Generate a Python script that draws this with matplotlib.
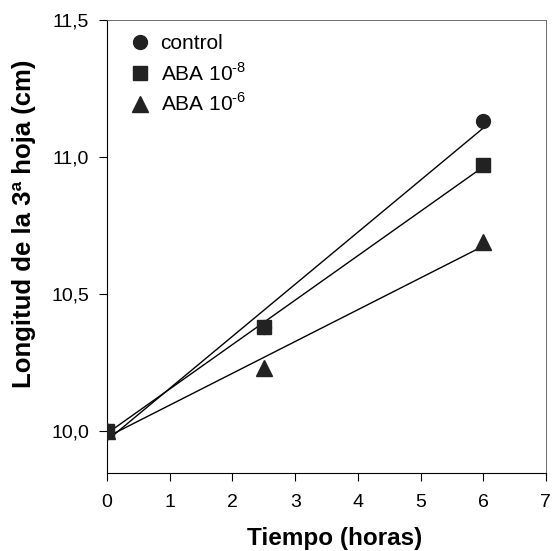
import numpy as np
import matplotlib
matplotlib.use("Agg")
import matplotlib.pyplot as plt
from matplotlib.ticker import FuncFormatter

plt.rcParams['font.family'] = ['Liberation Sans', 'DejaVu Sans']
plt.rcParams['mathtext.fontset'] = 'custom'
plt.rcParams['mathtext.rm'] = 'Liberation Sans'

# data
tiempo = [0, 2.5, 6]
control = [10.0, 10.38, 11.13]
aba8 = [10.0, 10.38, 10.97]
aba6 = [10.0, 10.23, 10.69]

series = [
    (control, 'o', 'control', 10, 3),
    (aba8, 's', r'ABA 10$^{\text{-8}}$', 9.5, 4),
    (aba6, '^', r'ABA 10$^{\text{-6}}$', 11, 3),
]

fig = plt.figure(figsize=(5.52, 5.51), dpi=100)
ax = fig.add_axes([0.194, 0.142, 0.795, 0.822])

xfit = np.array([0, 6])
for vals, mk, lab, ms, z in series:
    # regression line through each series
    b, a = np.polyfit(tiempo, vals, 1)
    ax.plot(xfit, a + b * xfit, color='black', lw=1.0, zorder=2)
    ax.plot(tiempo, vals, mk, color='#222222', ms=ms, label=lab, ls='none', zorder=z)

ax.set_xlim(0, 7)
ax.set_ylim(9.847, 11.5)
ax.set_xticks(range(8))
ax.set_yticks([10.0, 10.5, 11.0, 11.5])
ax.yaxis.set_major_formatter(FuncFormatter(lambda v, p: ('%.1f' % v).replace('.', ',')))
ax.tick_params(direction='out', length=6, labelsize=14, top=False, right=False)
ax.tick_params(axis='x', pad=9)
ax.tick_params(axis='y', pad=7)
for s in ['top', 'right']:
    ax.spines[s].set_linewidth(0.6)
    ax.spines[s].set_color('#555555')

ax.set_xlabel('Tiempo (horas)', fontsize=17.5, fontweight='bold')
ax.set_ylabel('Longitud de la 3ª hoja (cm)', fontsize=18.5, fontweight='bold')
ax.xaxis.set_label_coords(0.519, -0.12)
ax.yaxis.set_label_coords(-0.162, 0.55)

leg = ax.legend(loc='upper left', bbox_to_anchor=(0.015, 1.0), frameon=False, fontsize=15,
                handletextpad=0.45, borderaxespad=0.3, labelspacing=0.4, handlelength=1.1)

fig.savefig('out.png', dpi=100)
